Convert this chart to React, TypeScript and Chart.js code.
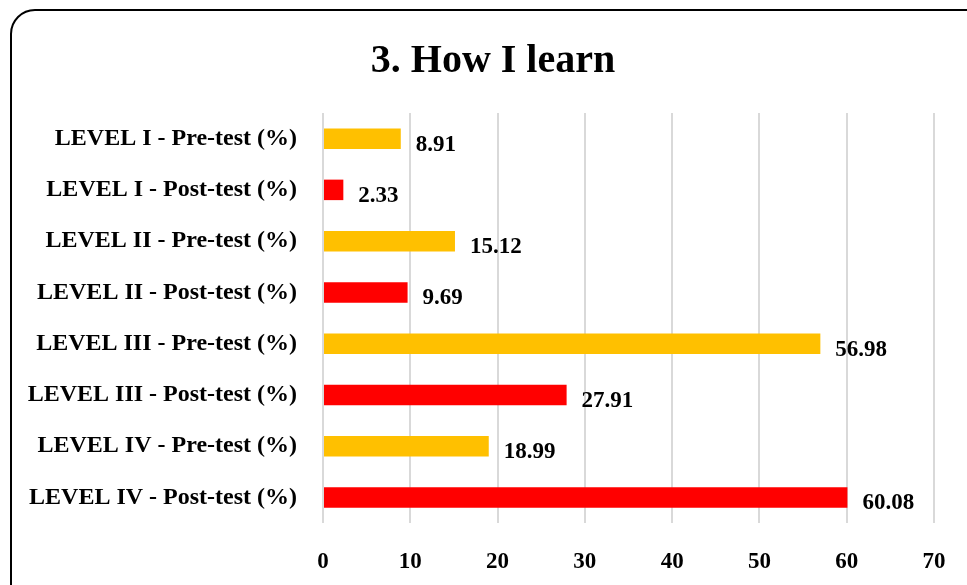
import React, { useEffect, useRef } from "react";
import { Chart, registerables } from "chart.js";

Chart.register(...registerables);

const TITLE = "3. How I learn";
const categories = [
  "LEVEL I - Pre-test (%)",
  "LEVEL I - Post-test (%)",
  "LEVEL II - Pre-test (%)",
  "LEVEL II - Post-test (%)",
  "LEVEL III - Pre-test (%)",
  "LEVEL III - Post-test (%)",
  "LEVEL IV - Pre-test (%)",
  "LEVEL IV - Post-test (%)",
];
const values = [8.91, 2.33, 15.12, 9.69, 56.98, 27.91, 18.99, 60.08];
const barColors = ["#FFC000", "#FF0000", "#FFC000", "#FF0000", "#FFC000", "#FF0000", "#FFC000", "#FF0000"];
const xMin = 0;
const xMax = 70;
const xStep = 10;

const FONT = "'Liberation Serif', 'Times New Roman', serif";

const framePlugin = {
  id: "frame",
  beforeDraw(chart: any) {
    const ctx = chart.ctx;
    ctx.save();
    ctx.fillStyle = "#ffffff";
    ctx.fillRect(0, 0, chart.width, chart.height);
    const x = 11, y = 10, w = chart.width + 40, h = chart.height + 40, r = 24;
    ctx.beginPath();
    ctx.moveTo(x + r, y);
    ctx.lineTo(x + w, y);
    ctx.lineTo(x + w, y + h);
    ctx.lineTo(x, y + h);
    ctx.lineTo(x, y + r);
    ctx.arcTo(x, y, x + r, y, r);
    ctx.closePath();
    ctx.lineWidth = 2;
    ctx.strokeStyle = "#000000";
    ctx.stroke();
    ctx.fillStyle = "#000000";
    ctx.font = "bold 40px " + FONT;
    ctx.textAlign = "center";
    ctx.textBaseline = "alphabetic";
    ctx.fillText(TITLE, 493, 72);
    ctx.restore();
  },
};

const labelPlugin = {
  id: "valueLabels",
  afterDatasetsDraw(chart: any) {
    const ctx = chart.ctx;
    const meta = chart.getDatasetMeta(0);
    ctx.save();
    ctx.fillStyle = "#000000";
    ctx.font = "bold 23px " + FONT;
    ctx.textAlign = "left";
    ctx.textBaseline = "alphabetic";
    meta.data.forEach((bar: any, i: number) => {
      ctx.fillText(values[i].toFixed(2), bar.x + 15, bar.y + 12);
    });
    ctx.restore();
  },
};

export default function App() {
  const ref = useRef<HTMLCanvasElement | null>(null);
  useEffect(() => {
    if (!ref.current) return;
    const chart = new Chart(ref.current, {
      type: "bar",
      data: {
        labels: categories,
        datasets: [
          {
            data: values,
            backgroundColor: barColors,
            barPercentage: 0.4,
            categoryPercentage: 1,
          },
        ],
      },
      options: {
        indexAxis: "y",
        animation: false,
        responsive: true,
        maintainAspectRatio: false,
        layout: { padding: { top: 113, left: 0, right: 33, bottom: 0 } },
        plugins: {
          legend: { display: false },
          title: { display: false },
          tooltip: { enabled: false },
        },
        scales: {
          x: {
            min: xMin,
            max: xMax,
            ticks: {
              stepSize: xStep,
              color: "#000000",
              font: { family: FONT, size: 23, weight: "bold" },
              padding: 25,
              maxRotation: 0,
            },
            grid: { color: "#d9d9d9", lineWidth: 2, drawTicks: false },
            border: { display: false },
            afterFit(scale: any) {
              scale.height = 62;
              scale.paddingRight = 0;
              scale.paddingLeft = 0;
            },
          },
          y: {
            ticks: {
              color: "#000000",
              font: { family: FONT, size: 24, weight: "bold" },
              padding: 18,
            },
            grid: { display: false },
            border: { display: false },
            afterFit(scale: any) {
              scale.width = 323;
              scale.paddingTop = 0;
              scale.paddingBottom = 0;
            },
          },
        },
      },
      plugins: [framePlugin, labelPlugin],
    });
    return () => chart.destroy();
  }, []);
  return (
    <div style={{ position: "fixed", left: 0, top: 0, width: 967, height: 585, background: "#fff" }}>
      <canvas ref={ref} />
    </div>
  );
}
